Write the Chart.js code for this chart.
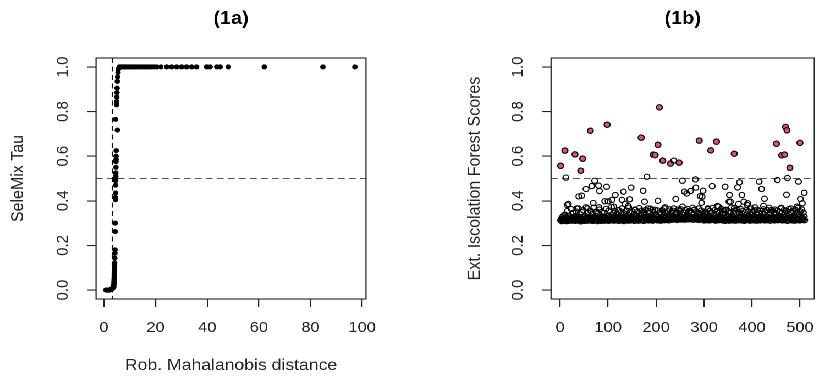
<!DOCTYPE html>
<html>
<head>
<meta charset="utf-8">
<script src="https://cdn.jsdelivr.net/npm/chart.js@4.4.0/dist/chart.umd.min.js"></script>
<style>
  html, body { margin: 0; padding: 0; background: #fff; overflow: hidden; }
  #wrap { position: relative; width: 745px; height: 376px; transform: scaleX(1.1); transform-origin: 0 0; }
  #c1 { position: absolute; left: 0; top: 0; }
  #c2 { position: absolute; left: 372px; top: 0; }
</style>
</head>
<body>
<div id="wrap">
  <canvas id="c1" width="372" height="376"></canvas>
  <canvas id="c2" width="380" height="376"></canvas>
</div>
<script>
// (1a) robust Mahalanobis distance against SeleMix tau
var mahalDist = [
  0.8,0.9,1.0,1.1,1.2,1.3,1.4,1.5,1.6,1.7,1.8,1.9,2.0,2.1,2.2,2.3,2.4,2.5,2.6,2.7,2.8,2.9,3.0,3.1,3.2,3.3,3.4,3.5,3.6,3.7,
  3.8,3.85,3.9,3.92,3.95,3.97,4.0,4.02,4.05,4.07,4.1,4.12,4.15,
  4.2,4.25,4.3,4.35,4.4,4.45,4.5,4.5,4.55,4.55,4.6,4.6,4.6,4.65,4.65,4.7,4.7,4.75,5.2,4.5,4.9,4.95,5.0,5.05,5.1,5.2,5.3,5.45,5.6,
  5.8,6.0,6.2,6.5,6.8,7.1,7.4,7.7,8.0,8.4,8.8,9.2,9.6,10.0,10.5,11.0,11.5,12.0,12.5,13.0,13.6,14.2,14.8,15.4,16.0,16.6,17.3,18.0,18.7,19.4,
  20.4,22.0,24.3,26.2,28.2,30.1,32.0,34.0,35.9,39.8,41.1,43.7,45.0,48.2,62.1,84.8,97.2
];
var selemixTau = [
  0,0,0,0,0,0,0,0,0,0,0,0,0,0,.001,.001,.001,.002,.002,.003,.003,.004,.005,.006,.007,.008,.009,.01,.011,.013,
  .016,.024,.032,.04,.048,.057,.066,.075,.084,.093,.102,.112,.122,
  .143,.165,.18,.262,.30,.405,.415,.435,.47,.49,.50,.51,.525,.55,.575,.585,.60,.625,.717,.765,.83,.845,.865,.885,.905,.935,.955,.975,.99,
  .995,1,1,1,1,1,1,1,1,1,1,1,1,1,1,1,1,1,1,1,1,1,1,1,1,1,1,1,1,1,
  1,1,1,1,1,1,1,1,1,1,1,1,1,1,1,1,1
];
var mahalCutoff = 3.2;
var tauCutoff = 0.5;

// (1b) extended isolation forest scores, one per observation (index 1..510)
var bandScores = [
  .312,.318,.309,.325,.314,.331,.316,.311,.322,.338,.313,.327,.309,.319,.354,.315,.321,.310,.333,.317,.326,.312,.363,.318,.311,.324,.346,.314,.320,.329,
  .317,.310,.352,.323,.313,.328,.319,.366,.311,.326,.341,.315,.308,.321,.349,.316,.312,.358,.325,.318,.310,.332,.320,.371,.314,.327,.311,.347,.322,.316,
  .329,.313,.356,.318,.311,.324,.343,.319,.310,.369,.326,.314,.331,.317,.352,.312,.323,.309,.344,.320,.315,.361,.327,.313,.321,.310,.349,.318,.330,.314,
  .322,.346,.311,.326,.316,.364,.319,.312,.333,.324,.310,.357,.317,.328,.314,.321,.372,.313,.329,.318,.345,.311,.325,.355,.316,.320,.312,.342,.327,.315,
  .319,.358,.310,.323,.331,.314,.349,.317,.366,.312,.326,.320,.309,.343,.318,.329,.313,.356,.322,.316,.330,.311,.369,.324,.315,.347,.319,.312,.328,.353,
  .314,.325,.318,.342,.310,.361,.321,.316,.331,.313,.350,.323,.311,.327,.367,.317,.320,.339,.312,.356,.326,.315,.322,.348,.310,.329,.318,.359,.314,.324,
  .331,.316,.354,.312,.327,.319,.345,.313,.365,.322,.317,.330,.311,.351,.325,.315,.321,.360,.318,.338,.314,.326,.357,.312,.329,.320,.347,.316,.323,.311,
  .343,.319,.358,.314,.328,.322,.350,.313,.371,.325,.317,.332,.316,.353,.321,.327,.312,.362,.330,.318,.346,.323,.315,.356,.329,.320,.366,.317,.339,.326,
  .319,.352,.324,.314,.348,.322,.361,.318,.330,.327,.355,.316,.343,.321,.374,.325,.318,.349,.328,.315,.358,.323,.332,.319,.364,.326,.317,.351,.331,.321,
  .356,.318,.329,.345,.322,.369,.315,.340,.325,.360,.319,.331,.323,.353,.316,.347,.328,.320,.366,.314,.342,.326,.318,.357,.322,.330,.317,.350,.324,.312,
  .328,.316,.352,.321,.313,.344,.324,.362,.317,.330,.312,.355,.326,.319,.348,.314,.322,.368,.318,.331,.315,.358,.323,.311,.341,.320,.351,.316,.327,.313,
  .321,.349,.314,.329,.317,.364,.323,.312,.345,.319,.357,.315,.326,.310,.340,.322,.360,.316,.328,.313,.352,.320,.311,.347,.325,.317,.370,.314,.330,.319,
  .312,.327,.356,.318,.323,.311,.344,.320,.361,.315,.329,.313,.350,.322,.316,.363,.326,.312,.342,.318,.354,.314,.325,.310,.348,.321,.317,.358,.323,.315,
  .330,.313,.353,.319,.326,.311,.366,.317,.340,.322,.314,.349,.325,.312,.357,.320,.316,.341,.327,.311,.360,.318,.324,.346,.314,.329,.312,.355,.321,.316,
  .343,.315,.326,.362,.319,.312,.350,.323,.317,.331,.313,.358,.322,.328,.316,.369,.320,.311,.345,.325,.318,.354,.314,.329,.321,.349,.312,.361,.324,.317,
  .341,.319,.357,.313,.327,.322,.351,.316,.331,.318,.366,.325,.312,.348,.320,.315,.359,.328,.313,.343,.319,.355,.323,.310,.330,.317,.363,.326,.314,.350,
  .322,.316,.346,.312,.356,.328,.318,.331,.311,.360,.324,.315,.348,.320,.313,.368,.327,.318,.341,.312,.353,.325,.316,.361,.321,.314,.347,.319,.329,.313
];
// scattered scores above the dense band (not flagged)
var highIdx = [12,15,17,35,39,45,54,57,66,69,72,80,81,82,93,97,100,108,112,115,129,132,135,142,145,148,156,173,176,181,183,193,204,217,237,241,252,
  255,259,264,272,279,282,283,292,295,296,298,308,317,328,330,344,345,352,353,355,363,370,372,374,379,383,390,391,406,415,420,424,426,
  440,453,461,472,474,481,494,497,501,505,509];
var highScores = [.504,.381,.386,.366,.420,.423,.453,.366,.466,.390,.490,.468,.371,.444,.398,.463,.398,.404,.374,.426,.404,.441,.386,.377,.407,.459,.359,.445,.396,.508,.366,.359,.400,.366,.580,.408,.362,
  .490,.441,.433,.444,.359,.496,.459,.421,.391,.418,.445,.366,.466,.377,.374,.463,.359,.396,.426,.396,.368,.460,.386,.483,.426,.396,.381,.389,.371,.486,.453,.377,.409,
  .359,.493,.369,.427,.502,.366,.374,.486,.408,.389,.436];
// flagged observations (filled)
var flagIdx = [1,10,31,43,47,63,98,169,194,198,204,207,214,230,248,290,314,326,363,451,462,468,470,473,479,500];
var flagScores = [.557,.625,.608,.535,.589,.714,.741,.683,.607,.605,.651,.819,.580,.567,.571,.670,.626,.665,.611,.656,.604,.607,.731,.716,.548,.660];
var scoreCutoff = 0.5;

var xTicksA = [0, 20, 40, 60, 80, 100];
var xTicksB = [0, 100, 200, 300, 400, 500];
var yTicks = [0, 0.2, 0.4, 0.6, 0.8, 1];
var yTickLabels = ['0.0', '0.2', '0.4', '0.6', '0.8', '1.0'];

Chart.defaults.font.family = '"Liberation Sans", Arial, sans-serif';
Chart.defaults.color = '#222';

// box, reference lines, rotated y labels and panel title, R style
var decor = {
  id: 'decor',
  beforeDatasetsDraw: function (chart, args, o) {
    var ctx = chart.ctx, a = chart.chartArea;
    ctx.save();
    ctx.lineWidth = 1;
    ctx.setLineDash([6, 4]);
    if (o.hLine != null) {
      var py = chart.scales.y.getPixelForValue(o.hLine);
      ctx.strokeStyle = '#555';
      ctx.beginPath(); ctx.moveTo(a.left, py); ctx.lineTo(a.right, py); ctx.stroke();
    }
    if (o.vLine != null) {
      var px = chart.scales.x.getPixelForValue(o.vLine);
      ctx.strokeStyle = '#000';
      ctx.setLineDash([5, 3.5]);
      ctx.beginPath(); ctx.moveTo(px, a.top); ctx.lineTo(px, a.bottom); ctx.stroke();
    }
    ctx.restore();
  },
  afterDraw: function (chart, args, o) {
    var ctx = chart.ctx, a = chart.chartArea, ys = chart.scales.y;
    ctx.save();
    ctx.strokeStyle = '#222';
    ctx.lineWidth = 1.1;
    ctx.strokeRect(a.left, a.top, a.right - a.left, a.bottom - a.top);

    ctx.fillStyle = '#222';
    ctx.font = '15px "Liberation Sans", Arial, sans-serif';
    ctx.textAlign = 'center';
    ctx.textBaseline = 'middle';
    for (var i = 0; i < yTicks.length; i++) {
      ctx.save();
      ctx.translate(a.left - o.labelOffset, ys.getPixelForValue(yTicks[i]));
      ctx.rotate(-Math.PI / 2);
      ctx.fillText(yTickLabels[i], 0, 0);
      ctx.restore();
    }

    ctx.fillStyle = '#000';
    ctx.font = 'bold 18px "Liberation Sans", Arial, sans-serif';
    ctx.fillText(o.title, (a.left + a.right) / 2, 18.8);
    ctx.restore();
  }
};

function fixW(w) { return function (s) { s.width = w; }; }
function fixH(h) { return function (s) { s.height = h; }; }
function setTicks(vals) {
  return function (s) { s.ticks = vals.map(function (v) { return { value: v }; }); };
}

function xAxis(min, max, ticks, title) {
  return {
    type: 'linear', min: min, max: max,
    afterBuildTicks: setTicks(ticks),
    afterFit: fixH(77),
    border: { display: false },
    grid: { drawOnChartArea: false, drawTicks: true, tickLength: 8, color: '#222', lineWidth: 1.1 },
    ticks: { autoSkip: false, maxRotation: 0, padding: 12, font: { size: 15 }, color: '#222' },
    title: { display: !!title, text: title || '', font: { size: 16 }, color: '#222', padding: { top: 0, bottom: 1 } }
  };
}
function yAxis(width, title, titlePad) {
  return {
    type: 'linear', min: -0.04, max: 1.04,
    afterBuildTicks: setTicks(yTicks),
    afterFit: fixW(width),
    border: { display: false },
    grid: { drawOnChartArea: false, drawTicks: true, tickLength: 8, color: '#222', lineWidth: 1.1 },
    ticks: { display: false },
    title: { display: true, text: title, font: { size: 16 }, color: '#222', padding: { top: titlePad, bottom: 0 } }
  };
}

var ptsA = mahalDist.map(function (v, i) { return { x: v, y: selemixTau[i] }; });
new Chart(document.getElementById('c1'), {
  type: 'scatter',
  data: { datasets: [{ data: ptsA, pointRadius: 2.5, backgroundColor: '#000', borderWidth: 0 }] },
  options: {
    responsive: false, animation: false, devicePixelRatio: 2, events: [],
    layout: { padding: { left: 0, right: 39.3, top: 58, bottom: 0 } },
    scales: { x: xAxis(-3.05, 101.5, xTicksA, 'Rob. Mahalanobis distance'), y: yAxis(87.3, 'SeleMix Tau', 7.2) },
    plugins: {
      legend: { display: false }, tooltip: { enabled: false },
      decor: { title: '(1a)', hLine: tauCutoff, vLine: mahalCutoff, labelOffset: 30 }
    }
  },
  plugins: [decor]
});

var band = bandScores.map(function (v, i) { return { x: i + 1, y: v }; });
var high = highIdx.map(function (v, i) { return { x: v, y: highScores[i] }; });
var flag = flagIdx.map(function (v, i) { return { x: v, y: flagScores[i] }; });
var openPt = { pointRadius: 2.6, backgroundColor: 'rgba(0,0,0,0)', borderColor: '#000', borderWidth: 1.1 };
new Chart(document.getElementById('c2'), {
  type: 'scatter',
  data: {
    datasets: [
      Object.assign({ data: band }, openPt),
      Object.assign({ data: high }, openPt),
      { data: flag, pointRadius: 2.7, backgroundColor: '#DF536B', borderColor: '#000', borderWidth: 1.1 }
    ]
  },
  options: {
    responsive: false, animation: false, devicePixelRatio: 2, events: [],
    layout: { padding: { left: 0, right: 4.7, top: 58, bottom: 0 } },
    scales: { x: xAxis(-19, 530, xTicksB, ''), y: yAxis(128.9, 'Ext. Iscolation Forest Scores', 49.8) },
    plugins: {
      legend: { display: false }, tooltip: { enabled: false },
      decor: { title: '(1b)', hLine: scoreCutoff, labelOffset: 30 }
    }
  },
  plugins: [decor]
});
</script>
</body>
</html>
